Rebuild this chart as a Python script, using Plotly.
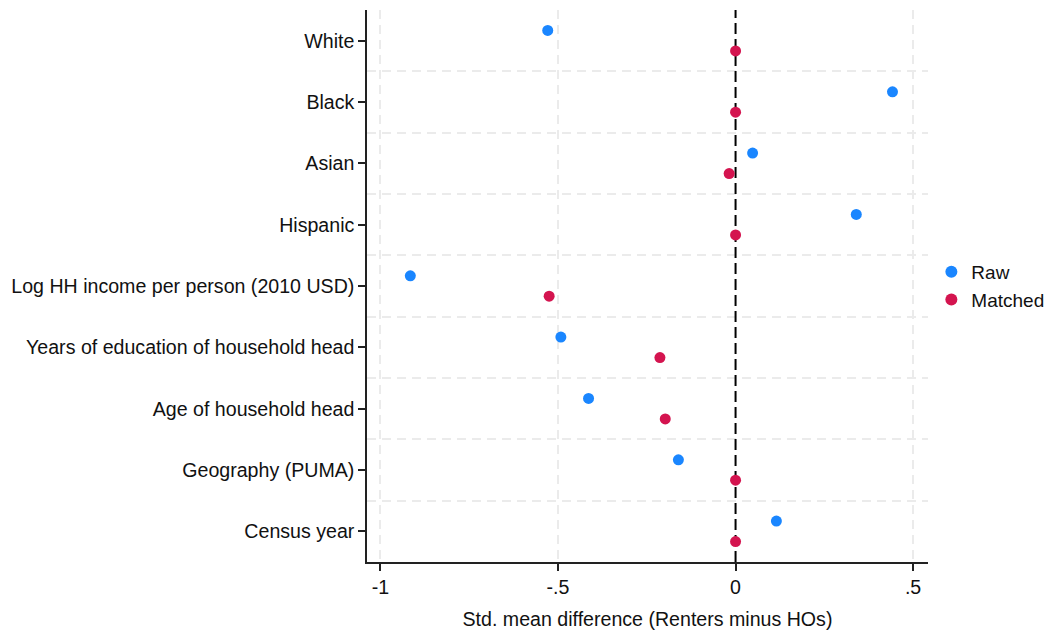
import plotly.graph_objects as go

# Covariate balance: standardized mean differences, renters minus homeowners
covariates = [
    "White",
    "Black",
    "Asian",
    "Hispanic",
    "Log HH income per person (2010 USD)",
    "Years of education of household head",
    "Age of household head",
    "Geography (PUMA)",
    "Census year",
]
raw_smd = [-0.529, 0.442, 0.048, 0.340, -0.916, -0.492, -0.414, -0.161, 0.115]
matched_smd = [0.0, 0.0, -0.018, 0.0, -0.525, -0.213, -0.198, 0.0, 0.0]

x_tick_vals = [-1, -0.5, 0, 0.5]
x_tick_text = ["-1", "-.5", "0", ".5"]
x_grid_vals = [-1, -0.5, 0.5]

n = len(covariates)
# first covariate at the top of the chart
pos = [n - 1 - i for i in range(n)]
offset = 1 / 6
raw_y = [p + offset for p in pos]
matched_y = [p - offset for p in pos]
y_lo, y_hi = -0.5, n - 0.5

FONT = "Liberation Sans, Arial, sans-serif"
fig = go.Figure()

# reference line at zero difference, drawn beneath the markers
fig.add_trace(go.Scatter(
    x=[0, 0], y=[y_lo, y_hi], mode="lines", showlegend=False, hoverinfo="skip",
    line=dict(color="black", width=2, dash="11px,5px"),
))
fig.add_trace(go.Scatter(
    x=raw_smd, y=raw_y, mode="markers", name="Raw",
    marker=dict(color="#1a86ff", size=11, line=dict(width=0)),
))
fig.add_trace(go.Scatter(
    x=matched_smd, y=matched_y, mode="markers", name="Matched",
    marker=dict(color="#d4144f", size=11, line=dict(width=0)),
))

GRID = dict(showgrid=True, gridcolor="#ebebeb", gridwidth=1.5, griddash="9px,6px", ticks="")

fig.update_layout(
    width=1047, height=635,
    margin=dict(l=367, r=119, t=10, b=73, autoexpand=False),
    paper_bgcolor="white", plot_bgcolor="white",
    font=dict(family=FONT, size=19.6, color="#111111"),
    showlegend=True,
    legend=dict(
        x=1.006, y=0.5, xanchor="left", yanchor="middle",
        font=dict(size=19), itemsizing="constant",
        bgcolor="rgba(0,0,0,0)", tracegroupgap=4,
    ),
    xaxis=dict(
        range=[-1.038, 0.542],
        tickvals=x_tick_vals, ticktext=x_tick_text,
        ticks="outside", ticklen=7, tickwidth=1.5, tickcolor="#222",
        showline=True, linecolor="#222", linewidth=1.5,
        showgrid=False, zeroline=False, automargin=False,
        title=dict(text="Std. mean difference (Renters minus HOs)", standoff=15,
                   font=dict(size=19.6)),
        tickfont=dict(size=19.6),
        minor=dict(tickmode="array", tickvals=x_grid_vals, **GRID),
    ),
    yaxis=dict(
        range=[y_lo, y_hi],
        tickmode="array", tickvals=pos, ticktext=covariates,
        ticks="outside", ticklen=7, tickwidth=1.5, tickcolor="#222",
        showline=True, linecolor="#222", linewidth=1.5,
        showgrid=False, zeroline=False, automargin=False,
        tickfont=dict(size=19.6),
        minor=dict(tickmode="linear", tick0=0.5, dtick=1, **GRID),
    ),
)

fig.write_html("out.html")
